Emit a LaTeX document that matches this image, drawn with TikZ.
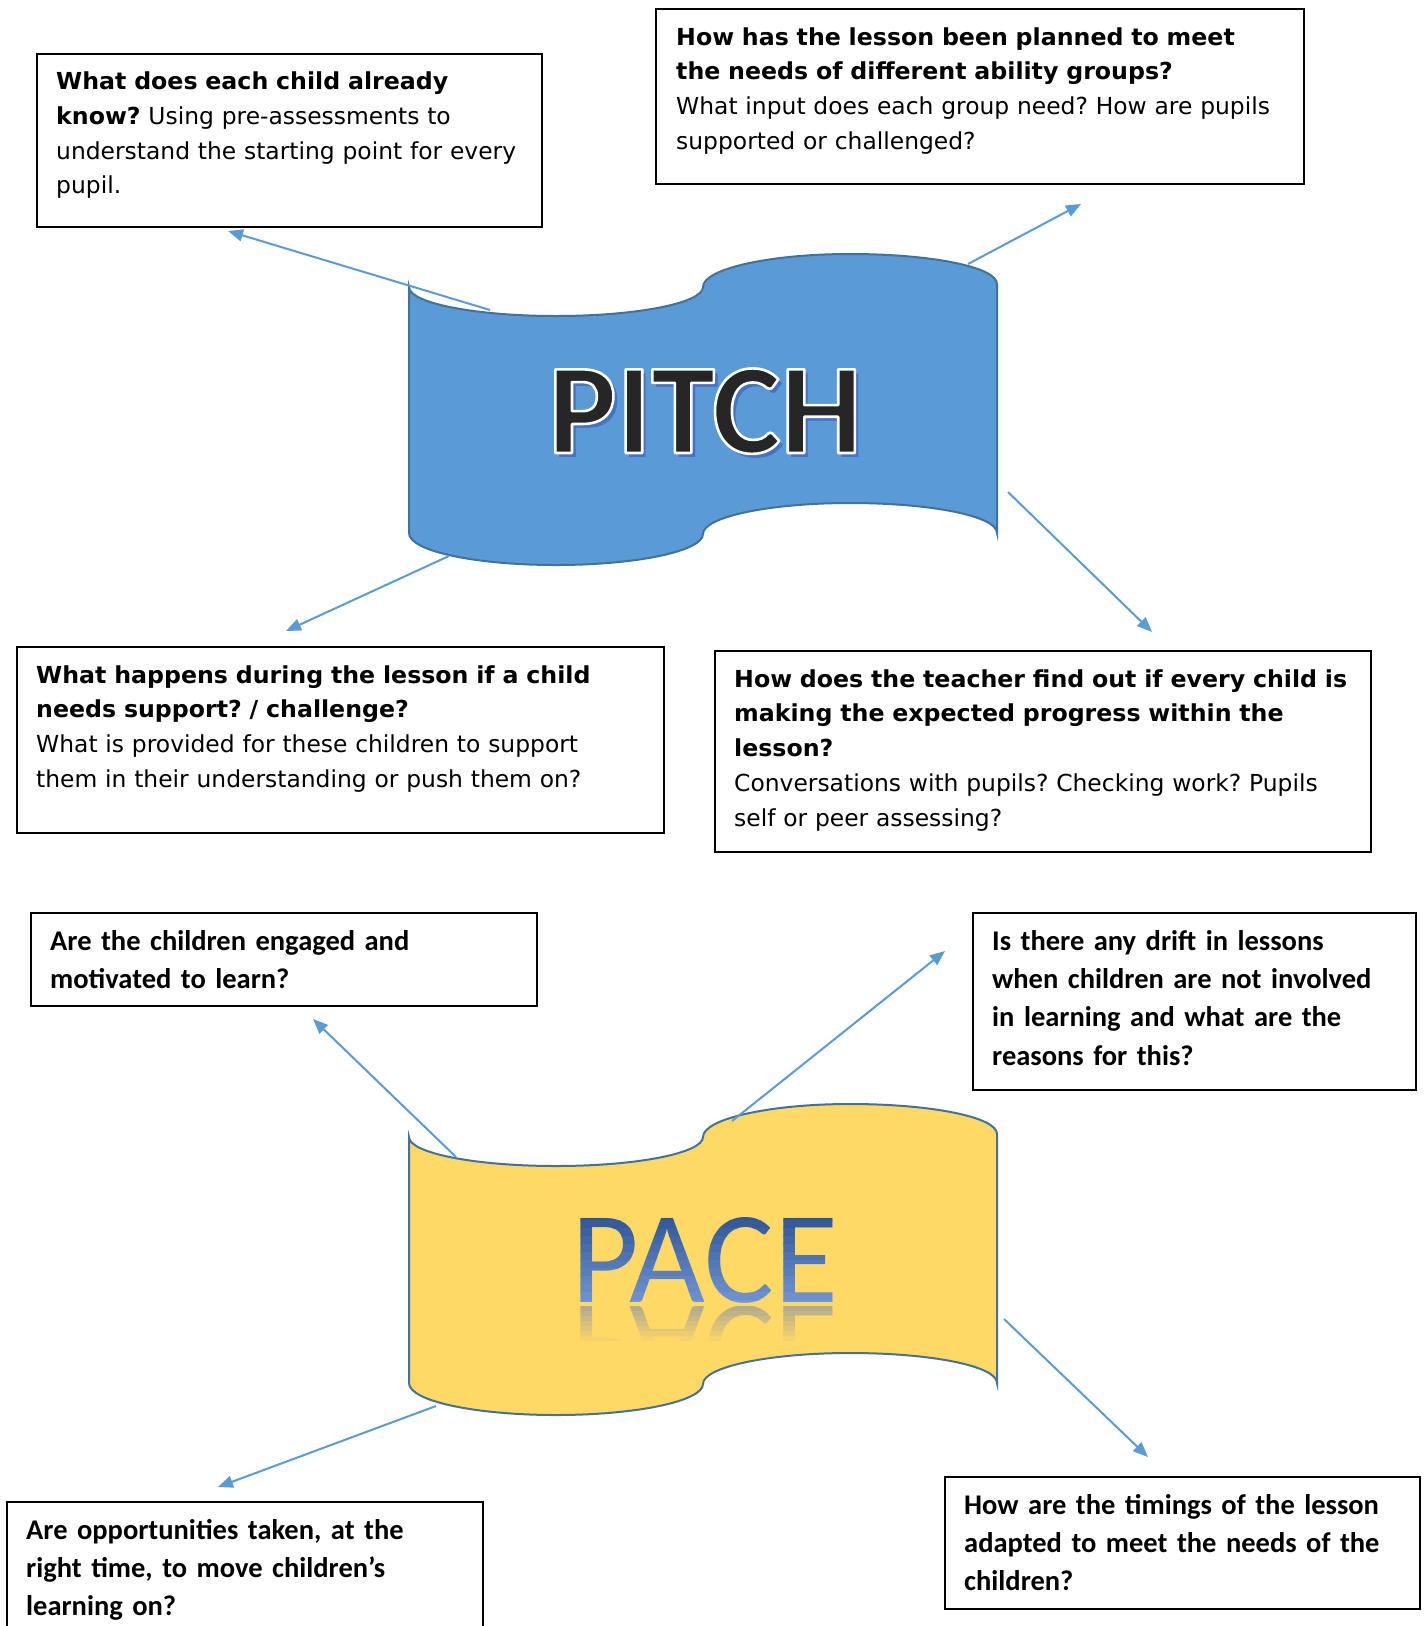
\documentclass[tikz,border=0pt]{standalone}
\usepackage{fontspec}
\setmainfont{DejaVu Sans}[BoldFeatures={FakeStretch=1.012}]
\newfontfamily\calfont{Carlito}
\usetikzlibrary{arrows.meta}
\definecolor{pitchblue}{HTML}{5B9BD5}
\definecolor{bannerline}{HTML}{41719C}
\definecolor{paceyellow}{HTML}{FFD966}
\definecolor{arrowblue}{HTML}{5B9BD5}
\definecolor{titleshadow}{HTML}{4472C4}
\definecolor{titleink}{HTML}{262626}
\definecolor{pacedark}{HTML}{2F5597}
\definecolor{pacelight}{HTML}{7397D4}
\definecolor{reflectc}{HTML}{B5AC8E}
\tikzset{
  qbox/.style={draw=black, line width=1.7pt, inner sep=0pt, anchor=north west},
  ptxt/.style={anchor=base west, inner sep=0pt, align=left, text width=700pt,
    font=\frenchspacing\fontsize{23.4}{34.8}\selectfont},
  ctxt/.style={anchor=base west, inner sep=0pt, align=left, text width=700pt,
    font=\frenchspacing\calfont\bfseries\fontsize{28.5}{38.4}\selectfont},
  arr/.style={draw=arrowblue, line width=2pt, -{Triangle[length=15pt,width=12pt]}},
  pitchfont/.style={inner sep=0pt, anchor=base, font=\calfont\bfseries\fontsize{129}{129}\selectfont},
  pacefont/.style={inner sep=0pt, anchor=base, font=\calfont\fontsize{131}{131}\selectfont},
  pics/banner/.style={code={
    \draw[line width=2pt, draw=bannerline, fill=#1]
      (409,287) .. controls (409,303) and (475,316) .. (556,316)
      .. controls (637,316) and (703,303) .. (703,287)
      .. controls (703,269) and (769,254) .. (850,254)
      .. controls (931,254) and (997,267) .. (997,284)
      -- (997,533)
      .. controls (997,516) and (931,503) .. (850,503)
      .. controls (769,503) and (703,517) .. (703,534)
      .. controls (703,551) and (637,565) .. (556,565)
      .. controls (475,565) and (409,551) .. (409,533) -- cycle;
  }}
}
\begin{document}
\begin{tikzpicture}[x=1pt, y=-1pt]
\clip (0,0) rectangle (1424,1626);
\fill[white] (0,0) rectangle (1424,1626);

% banners
\pic (pitchbanner) at (0,0) {banner=pitchblue};
\pic (pacebanner) at (0,850) {banner=paceyellow};

% PITCH title: blue shadow, then ink letters stroked with a thin white outline
\node[pitchfont, text=titleshadow] (pitchshadow) at (709,457) {PITCH};
\node[pitchfont, text=titleink] (pitchtitle) at (705,453)
  {\special{pdf:literal direct 2 Tr 1 1 1 RG 2.6 w 1 j}PITCH\special{pdf:literal direct 0 Tr}};

% PACE title with vertical gradient
\foreach \i in {0,...,11}{
  \pgfmathsetmacro\ya{1212+\i*8}
  \pgfmathsetmacro\yb{1212+\i*8+8.3}
  \pgfmathtruncatemacro\p{\i*100/11}
  \begin{scope}
    \clip (0,\ya) rectangle (1424,\yb);
    \colorlet{stripc}{pacelight!\p!pacedark}
    \node[pacefont, text=stripc] (pace\i) at (705,1302) {PACE};
  \end{scope}
}
% reflection
\foreach \i in {0,...,7}{
  \pgfmathsetmacro\ya{1306+\i*5}
  \pgfmathsetmacro\yb{1306+\i*5+5.3}
  \pgfmathtruncatemacro\p{\i*100/7}
  \begin{scope}
    \clip (0,\ya) rectangle (1424,\yb);
    \colorlet{stripr}{paceyellow!\p!reflectc}
    \begin{scope}[shift={(705,1306)}, yscale=-1]
      \node[pacefont, text=stripr, transform shape] (pacerefl\i) at (0,0) {PACE};
    \end{scope}
  \end{scope}
}

% boxes
\node[qbox, minimum width=505pt, minimum height=173pt] (boxA) at (36,53) {};
\node[qbox, minimum width=648pt, minimum height=175pt] (boxB) at (655,8) {};
\node[qbox, minimum width=647pt, minimum height=186pt] (boxC) at (16,646) {};
\node[qbox, minimum width=656pt, minimum height=201pt] (boxD) at (714,650) {};
\node[qbox, minimum width=506pt, minimum height=93pt] (boxE) at (30,912) {};
\node[qbox, minimum width=443pt, minimum height=177pt] (boxF) at (972,912) {};
\node[qbox, minimum width=476pt, minimum height=149pt] (boxG) at (6,1501) {};
\node[qbox, minimum width=475pt, minimum height=132pt] (boxH) at (944,1476) {};

% texts
\node[ptxt] (tA) at (56,89.5) {\textbf{What does each child already}\\
\textbf{know?} Using pre-assessments to\\
understand the starting point for every\\
pupil.};
\node[ptxt] (tB) at (676,45) {\textbf{How has the lesson been planned to meet}\\
\textbf{the needs of different ability groups?}\\
What input does each group need? How are pupils\\
supported or challenged?};
\node[ptxt] (tC) at (36,683) {\textbf{What happens during the lesson if a child}\\
\textbf{needs support? / challenge?}\\
What is provided for these children to support\\
them in their understanding or push them on?};
\node[ptxt] (tD) at (734,687) {\textbf{How does the teacher find out if every child is}\\
\textbf{making the expected progress within the}\\
\textbf{lesson?}\\
Conversations with pupils? Checking work? Pupils\\
self or peer assessing?};
\node[ctxt] (tE) at (50,950) {Are the children engaged and\\
motivated to learn?};
\node[ctxt] (tF) at (992,950) {Is there any drift in lessons\\
when children are not involved\\
in learning and what are the\\
reasons for this?};
\node[ctxt] (tG) at (26,1539) {Are opportunities taken, at the\\
right time, to move children’s\\
learning on?};
\node[ctxt] (tH) at (964,1514) {How are the timings of the lesson\\
adapted to meet the needs of the\\
children?};

% connectors
\coordinate (a1s) at (490,310); \coordinate (a1e) at (228,231);
\coordinate (a2s) at (968,264); \coordinate (a2e) at (1081,204);
\coordinate (a3s) at (449,556); \coordinate (a3e) at (286,631);
\coordinate (a4s) at (1008,492); \coordinate (a4e) at (1152,632);
\coordinate (a5s) at (456,1157); \coordinate (a5e) at (313,1019);
\coordinate (a6s) at (732,1121); \coordinate (a6e) at (945,951);
\coordinate (a7s) at (436,1406); \coordinate (a7e) at (218,1487);
\coordinate (a8s) at (1004,1319); \coordinate (a8e) at (1148,1457);
\foreach \n in {1,...,8}{\draw[arr] (a\n s) -- (a\n e);}
\end{tikzpicture}
\end{document}
